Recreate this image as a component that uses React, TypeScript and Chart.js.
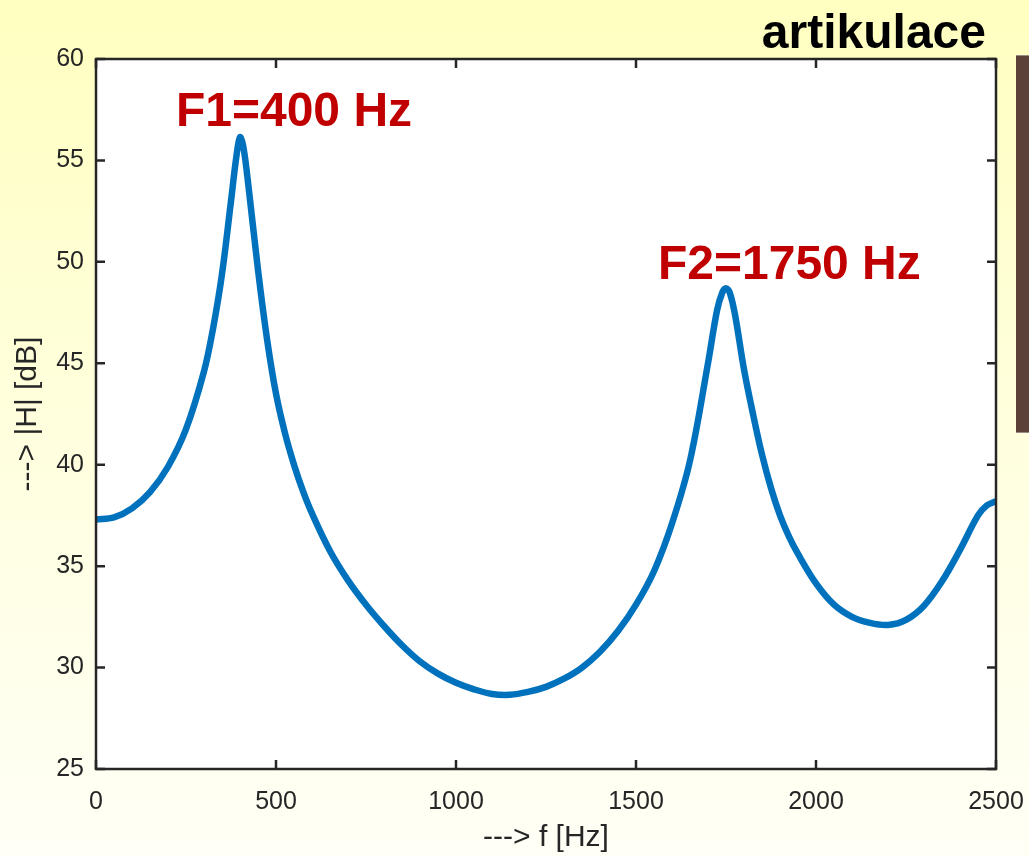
import { useEffect, useRef } from 'react';
import { Chart, registerables } from 'chart.js';

Chart.register(...registerables);

// ---- data ----
const freqHz = [
  0, 50, 100, 150, 200, 250, 300, 325, 350, 375, 390, 400, 410, 425, 450, 475, 500, 525, 550, 575, 600,
  650, 700, 750, 800, 850, 900, 950, 1000, 1050, 1100, 1150, 1200, 1250, 1300, 1350, 1400, 1450, 1500,
  1550, 1600, 1650, 1700, 1725, 1740, 1750, 1760, 1775, 1800, 1825, 1850, 1875, 1900, 1925, 1950, 2000, 2050, 2100,
  2150, 2200, 2250, 2300, 2350, 2400, 2450, 2475, 2500,
];
const magnitudeDb = [
  37.3, 37.4, 37.85, 38.65, 39.9, 41.75, 44.6, 46.7, 49.4, 53.0, 55.2, 56.15, 55.6, 53.5, 49.6, 46.2, 43.5, 41.55, 40.0, 38.7, 37.6,
  35.75, 34.3, 33.1, 32.05, 31.1, 30.3, 29.7, 29.25, 28.93, 28.7, 28.66, 28.8, 29.05, 29.45, 30.0, 30.78, 31.8, 33.1,
  34.75, 37.1, 40.2, 45.0, 47.6, 48.5, 48.7, 48.5, 47.4, 44.7, 42.5, 40.5, 38.85, 37.5, 36.45, 35.6, 34.15, 33.1, 32.5,
  32.2, 32.1, 32.35, 33.05, 34.25, 35.8, 37.5, 38.0, 38.2,
];
const xTickValues = [0, 500, 1000, 1500, 2000, 2500];
const yTickValues = [25, 30, 35, 40, 45, 50, 55, 60];
const chartTitle = 'artikulace';
const xAxisLabel = '---> f [Hz]';
const yAxisLabel = '---> |H| [dB]';
const formantLabels = ['F1=400 Hz', 'F2=1750 Hz'];
const formantLabelFreq = [222, 1561];
const formantLabelDb = [56.7, 49.15];

const FONT = '"Liberation Sans", Arial, Helvetica, sans-serif';
const AXIS_COLOR = '#262626';

const decorPlugin = {
  id: 'decor',
  beforeDraw(chart: any) {
    const { ctx, width, height, chartArea } = chart;
    ctx.save();
    const g = ctx.createLinearGradient(0, 0, 0, height);
    g.addColorStop(0, '#FFFFC0');
    g.addColorStop(0.5, '#FFFFDE');
    g.addColorStop(1, '#FFFFF6');
    ctx.fillStyle = g;
    ctx.fillRect(0, 0, width, height);
    // brown side bar
    ctx.fillStyle = '#5C4139';
    ctx.fillRect(1016, 55, 13, 378);
    ctx.fillStyle = '#9A8A84';
    ctx.fillRect(1016, 55, 13, 1);
    ctx.fillRect(1016, 432, 13, 1);
    // white plot area
    ctx.fillStyle = '#FFFFFF';
    ctx.fillRect(chartArea.left, chartArea.top, chartArea.right - chartArea.left, chartArea.bottom - chartArea.top);
    ctx.restore();
  },
  afterDraw(chart: any) {
    const { ctx, chartArea } = chart;
    const xs = chart.scales.x;
    const ys = chart.scales.y;
    const { left, right, top, bottom } = chartArea;
    ctx.save();
    ctx.strokeStyle = AXIS_COLOR;
    ctx.lineWidth = 2.5;
    ctx.strokeRect(left, top, right - left, bottom - top);
    const tl = 9;
    ctx.beginPath();
    xTickValues.forEach((v) => {
      const px = xs.getPixelForValue(v);
      ctx.moveTo(px, bottom);
      ctx.lineTo(px, bottom - tl);
      ctx.moveTo(px, top);
      ctx.lineTo(px, top + tl);
    });
    yTickValues.forEach((v) => {
      const py = ys.getPixelForValue(v);
      ctx.moveTo(left, py);
      ctx.lineTo(left + tl, py);
      ctx.moveTo(right, py);
      ctx.lineTo(right - tl, py);
    });
    ctx.stroke();

    // formant annotations
    ctx.fillStyle = '#C00000';
    ctx.font = `bold 48px ${FONT}`;
    ctx.textAlign = 'left';
    ctx.textBaseline = 'alphabetic';
    formantLabels.forEach((t, i) => {
      ctx.fillText(t, xs.getPixelForValue(formantLabelFreq[i]), ys.getPixelForValue(formantLabelDb[i]));
    });

    // title
    ctx.fillStyle = '#000000';
    ctx.font = `bold 48px ${FONT}`;
    ctx.textAlign = 'right';
    ctx.fillText(chartTitle, 986, 48);
    ctx.restore();
  },
};

export default function App() {
  const canvasRef = useRef<HTMLCanvasElement | null>(null);

  useEffect(() => {
    const canvas = canvasRef.current;
    if (!canvas) return;
    const points = freqHz.map((f, i) => ({ x: f, y: magnitudeDb[i] }));
    const chart = new Chart(canvas, {
      type: 'line',
      data: {
        datasets: [
          {
            data: points,
            borderColor: '#0072BD',
            borderWidth: 6.5,
            pointRadius: 0,
            tension: 0.35,
            fill: false,
          },
        ],
      },
      options: {
        responsive: false,
        animation: false,
        devicePixelRatio: 1,
        layout: { padding: { left: 0, top: 59, right: 33, bottom: 0 } },
        plugins: { legend: { display: false }, tooltip: { enabled: false } },
        scales: {
          x: {
            type: 'linear',
            min: 0,
            max: 2500,
            afterBuildTicks: (s: any) => {
              s.ticks = xTickValues.map((v) => ({ value: v }));
            },
            afterFit: (s: any) => {
              s.height = 87;
              s.paddingLeft = 0;
              s.paddingRight = 0;
            },
            grid: { display: false, drawTicks: false },
            border: { display: false },
            ticks: {
              padding: 18,
              autoSkip: false,
              maxRotation: 0,
              color: AXIS_COLOR,
              font: { family: FONT, size: 25 },
              callback: (v: any) => String(v),
            },
            title: {
              display: true,
              text: xAxisLabel,
              color: AXIS_COLOR,
              font: { family: FONT, size: 30 },
              padding: { top: 0, bottom: 0 },
            },
          },
          y: {
            type: 'linear',
            min: 25,
            max: 60,
            afterBuildTicks: (s: any) => {
              s.ticks = yTickValues.map((v) => ({ value: v }));
            },
            afterFit: (s: any) => {
              s.width = 96;
              s.paddingTop = 0;
              s.paddingBottom = 0;
            },
            grid: { display: false, drawTicks: false },
            border: { display: false },
            ticks: {
              padding: 12,
              autoSkip: false,
              color: AXIS_COLOR,
              font: { family: FONT, size: 25 },
              callback: (v: any) => String(v),
            },
            title: {
              display: true,
              text: yAxisLabel,
              color: AXIS_COLOR,
              font: { family: FONT, size: 30 },
              padding: { top: 10, bottom: 0 },
            },
          },
        },
      },
      plugins: [decorPlugin],
    } as any);
    return () => chart.destroy();
  }, []);

  return (
    <div style={{ position: 'fixed', left: 0, top: 0, width: 1029, height: 856, overflow: 'hidden' }}>
      <canvas ref={canvasRef} width={1029} height={856} style={{ display: 'block', width: 1029, height: 856 }} />
    </div>
  );
}
